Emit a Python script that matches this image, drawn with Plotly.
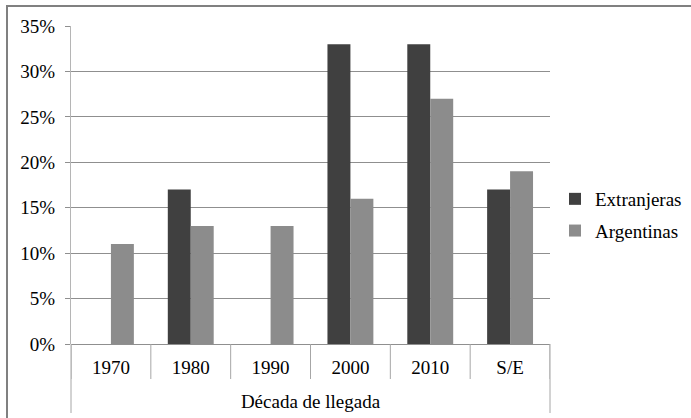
import plotly.graph_objects as go

categories = ["1970", "1980", "1990", "2000", "2010", "S/E"]
extranjeras = [0, 0.17, 0, 0.33, 0.33, 0.17]
argentinas = [0.11, 0.13, 0.13, 0.16, 0.27, 0.19]
y_ticks = [0, 0.05, 0.10, 0.15, 0.20, 0.25, 0.30, 0.35]
x_title = "Década de llegada"

FONT = "Liberation Serif"
W, H = 691, 418
L, R, T, B = 71, 141, 26, 74
PW, PH = W - L - R, H - T - B

fig = go.Figure()
fig.add_trace(go.Bar(name="Extranjeras", x=categories, y=extranjeras,
                     marker=dict(color="#404040", line=dict(width=0)),
                     legendgroup="a"))
fig.add_trace(go.Bar(name="Argentinas", x=categories, y=argentinas,
                     marker=dict(color="#8c8c8c", line=dict(width=0)),
                     legendgroup="b"))

shapes = []
for i in range(len(categories) + 1):
    shapes.append(dict(type="line", xref="x", yref="paper",
                       x0=i - 0.5, x1=i - 0.5, y0=0, y1=-35 / PH,
                       line=dict(color="#a6a6a6", width=1)))
for xp in (0, 1):
    shapes.append(dict(type="line", xref="paper", yref="paper",
                       x0=xp, x1=xp, y0=0, y1=-69 / PH,
                       line=dict(color="#a6a6a6", width=1)))
# chart border: only top and left edges are visible in the reference
shapes.append(dict(type="rect", xref="paper", yref="paper", layer="above",
                   x0=-(L - 7) / PW, x1=(W - L + 10) / PW,
                   y0=-(B + 10) / PH, y1=1 + (T - 6) / PH,
                   line=dict(color="#808080", width=2),
                   fillcolor="rgba(0,0,0,0)"))

fig.update_layout(
    width=W, height=H,
    margin=dict(l=L, r=R, t=T, b=B, autoexpand=False),
    paper_bgcolor="white", plot_bgcolor="white",
    font=dict(family=FONT, size=19, color="black"),
    barmode="group", bargap=0.425, bargroupgap=0,
    shapes=shapes,
    showlegend=True,
    legend=dict(x=(555 - L) / PW, y=1 - (215 - T) / PH, xanchor="left", yanchor="middle",
                font=dict(family=FONT, size=19, color="black"),
                tracegroupgap=4, itemwidth=30,
                bgcolor="rgba(0,0,0,0)"),
    xaxis=dict(type="category", categoryorder="array", categoryarray=categories,
               showgrid=False, showline=False, zeroline=False, automargin=False,
               ticks="outside", ticklen=6, tickcolor="rgba(0,0,0,0)",
               tickfont=dict(family=FONT, size=19),
               title=dict(text=x_title, font=dict(family=FONT, size=19), standoff=17),
               range=[-0.5, len(categories) - 0.5]),
    yaxis=dict(range=[0, 0.35], tickvals=y_ticks, tickformat=".0%", automargin=False,
               showgrid=True, gridcolor="#8f8f8f", gridwidth=1,
               showline=True, linecolor="#b5b5b5", linewidth=1,
               zeroline=True, zerolinecolor="#8f8f8f", zerolinewidth=1,
               ticks="outside", ticklen=5, tickcolor="#8f8f8f",
               ticklabelstandoff=6,
               tickfont=dict(family=FONT, size=19)),
)

fig.write_html("out.html", config={"displayModeBar": False},
               post_script="document.body.style.margin='0px';document.body.style.overflow='hidden';")
